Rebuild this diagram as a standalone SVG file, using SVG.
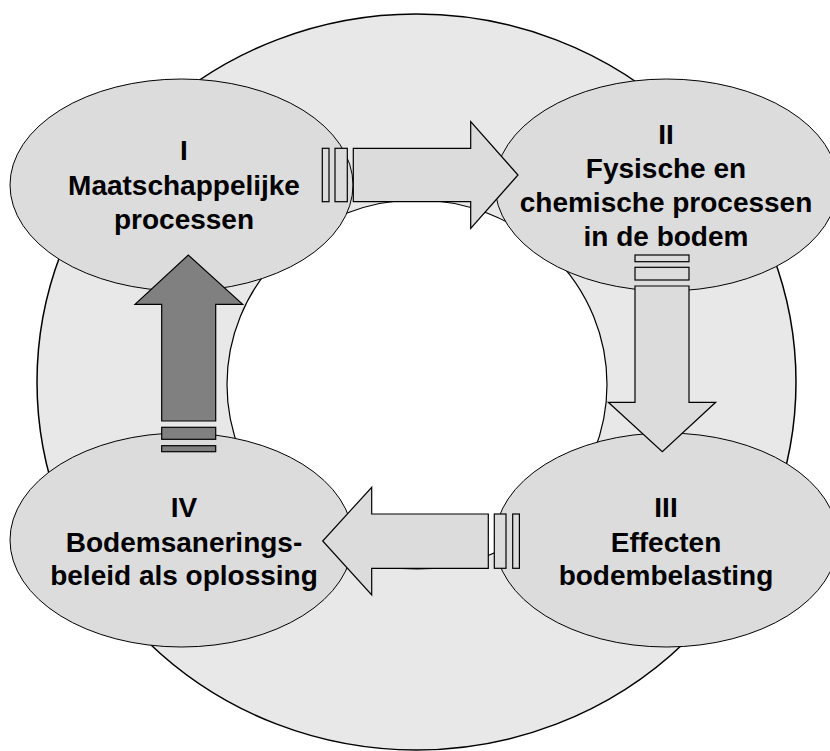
<svg xmlns="http://www.w3.org/2000/svg" width="830" height="751" viewBox="0 0 830 751">
<style>
.ring{fill:#e8e8e8;stroke:#000;stroke-width:1.5}
.hole{fill:#fff;stroke:#000;stroke-width:1.2}
.node{fill:#dcdcdc;stroke:#000;stroke-width:1}
.arr{fill:#dcdcdc;stroke:#000;stroke-width:1.2}
.dark{fill:#808080;stroke:#000;stroke-width:1.2}
.lbl{font-family:"Liberation Sans",Arial,sans-serif;font-weight:bold;font-size:28px;fill:#000;text-anchor:middle}
</style>
<rect width="830" height="751" fill="#fff"/>
<g id="ring">
<ellipse class="ring" cx="416.5" cy="382" rx="379.5" ry="368"/>
<ellipse class="hole" cx="417" cy="384.5" rx="190" ry="184.5"/>
</g>
<g id="node1">
<ellipse class="node" cx="181.5" cy="185" rx="171.5" ry="106"/>
<text class="lbl" x="184" y="160">I</text>
<text class="lbl" x="184" y="195">Maatschappelijke</text>
<text class="lbl" x="184" y="229">processen</text>
</g>
<g id="node2">
<ellipse class="node" cx="666.5" cy="185" rx="171.5" ry="106"/>
<text class="lbl" x="666" y="144">II</text>
<text class="lbl" x="666" y="178">Fysische en</text>
<text class="lbl" x="666" y="212">chemische processen</text>
<text class="lbl" x="666" y="246">in de bodem</text>
</g>
<g id="node3">
<ellipse class="node" cx="666.5" cy="540" rx="171.5" ry="107"/>
<text class="lbl" x="666" y="517">III</text>
<text class="lbl" x="666" y="552">Effecten</text>
<text class="lbl" x="666" y="585">bodembelasting</text>
</g>
<g id="node4">
<ellipse class="node" cx="181.5" cy="540" rx="171.5" ry="107"/>
<text class="lbl" x="184" y="517">IV</text>
<text class="lbl" x="184" y="552">Bodemsanerings-</text>
<text class="lbl" x="184" y="585">beleid als oplossing</text>
</g>
<g id="connectors">
<g id="a12">
<rect class="arr" x="322.3" y="148.3" width="6.7" height="53.4"/>
<rect class="arr" x="335" y="148.3" width="12.3" height="53.4"/>
<polygon class="arr" points="353.3,148.3 470.7,148.3 470.7,121.7 518,175 470.7,228.3 470.7,201.7 353.3,201.7"/>
</g>
<g id="a23">
<rect class="arr" x="635" y="255" width="54" height="6.7"/>
<rect class="arr" x="635" y="267.3" width="54" height="12.7"/>
<polygon class="arr" points="635,286 689,286 689,402.3 715.7,402.3 662.3,451.7 608.3,402.3 635,402.3"/>
</g>
<g id="a34">
<rect class="arr" x="494.3" y="514" width="11.7" height="54.3"/>
<rect class="arr" x="512.7" y="514" width="6.7" height="54.3"/>
<polygon class="arr" points="488.3,514 371.7,514 371.7,487.3 322.7,541 371.7,595 371.7,568.3 488.3,568.3"/>
</g>
<g id="a41">
<rect class="dark" x="161.7" y="427.3" width="54" height="12"/>
<rect class="dark" x="161.7" y="445.7" width="54" height="6"/>
<polygon class="dark" points="161.7,421 161.7,304.3 135,304.3 188.3,255 242.7,304.3 215.7,304.3 215.7,421"/>
</g>
</g>
</svg>
